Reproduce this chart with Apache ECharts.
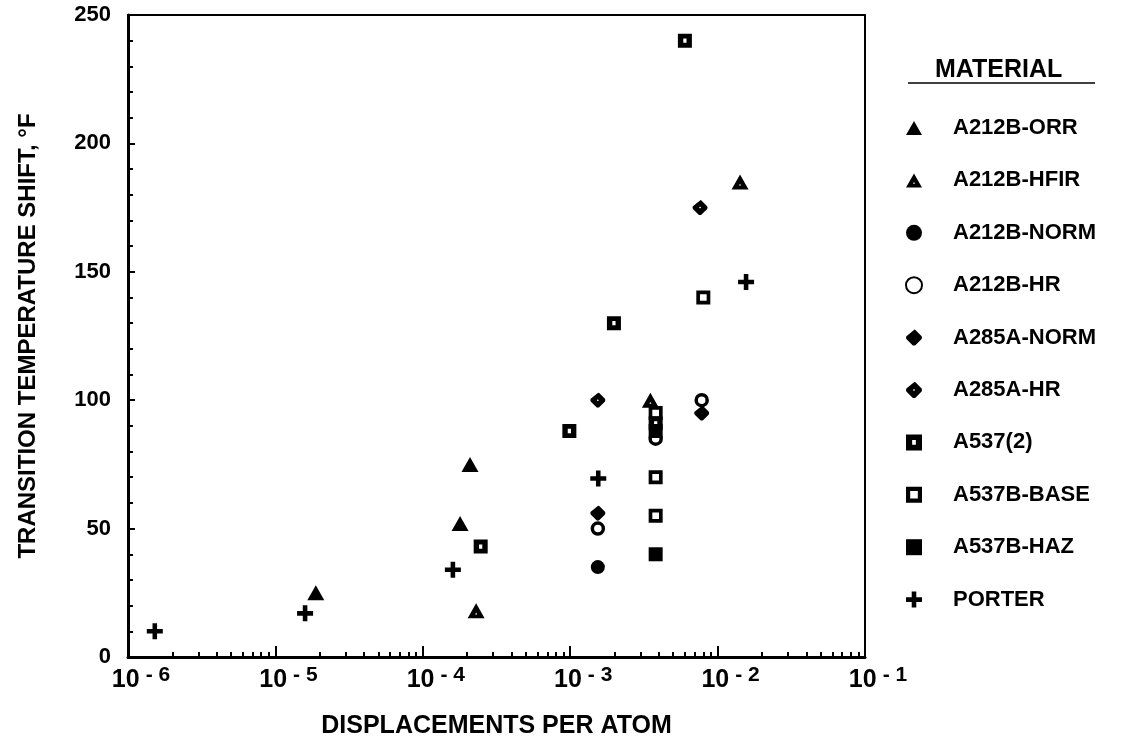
<!DOCTYPE html>
<html lang="en">
<head>
    <meta charset="UTF-8">
    <title>Transition temperature shift</title>
    <style>
    body{ margin:0; background:#fff; }
    #main{ width:1123px; height:748px; }
    </style>
</head>
<body>
<div id="main"></div>
<script src="https://cdn.jsdelivr.net/npm/echarts@6/dist/echarts.min.js"></script>
<script>
    // data points [dpa, shift in F]
    var orr      = [[1.88e-5, 25], [1.79e-4, 52], [2.09e-4, 75]];
    var hfir     = [[2.3e-4, 18], [3.5e-3, 100], [1.42e-2, 185]];
    var norm     = [[1.54e-3, 35]];
    var hr       = [[1.54e-3, 50], [3.8e-3, 85], [7.8e-3, 100]];
    var a285Norm = [[1.54e-3, 56], [7.8e-3, 95]];
    var a285Hr   = [[1.54e-3, 100], [7.6e-3, 175]];
    var a537     = [[2.47e-4, 43], [9.87e-4, 88], [1.98e-3, 130], [3.8e-3, 91], [6.0e-3, 240]];
    var base     = [[3.8e-3, 95], [3.8e-3, 70], [3.8e-3, 55], [8.0e-3, 140]];
    var haz      = [[3.8e-3, 40], [3.8e-3, 88]];
    var porter   = [[1.52e-6, 10], [1.59e-5, 17], [1.6e-4, 34], [1.55e-3, 69.5], [1.56e-2, 146]];

    var names = ['A212B-ORR','A212B-HFIR','A212B-NORM','A212B-HR','A285A-NORM','A285A-HR','A537(2)','A537B-BASE','A537B-HAZ','PORTER'];
    var yTicks = [0, 50, 100, 150, 200, 250];

    // minor tick positions on the log axis (2..9 in each decade), in log10 units
    var minorExp = [];
    for (var d = -6; d < -1; d++) {
        for (var k = 2; k <= 9; k++) minorExp.push(d + Math.log10(k));
    }

    var font = '"Liberation Sans", Arial, sans-serif';
    var black = '#000';

    var symTri    = 'path://M8,0L16,14L0,14Z';
    var symTriDot = 'path://M8,0L16,14L0,14Z M8,8.6L7,10.4L9,10.4Z';
    var symDia    = 'path://M7,0.6Q7.6,0 8.2,0.6L13.4,5.8Q14,7 13.4,8.2L8.2,13.4Q7,14 5.8,13.4L0.6,8.2Q0,7 0.6,5.8Z';
    var symDiaDot = 'path://M7,0.6Q7.6,0 8.2,0.6L13.4,5.8Q14,7 13.4,8.2L8.2,13.4Q7,14 5.8,13.4L0.6,8.2Q0,7 0.6,5.8Z M7,6.1L6.1,7L7,7.9L7.9,7Z';
    var symSq2    = 'path://M0,0H13V13H0Z M5,4.5V8.5H8V4.5Z';
    var symBase   = 'path://M0,0H13V13H0Z M3.4,3.4V9.6H9.6V3.4Z';
    var symPlus   = 'path://M5,0H9V5H14V9H9V14H5V9H0V5H5Z';

    function sc(name, data, symbol, size, style) {
        return {
            name: name,
            type: 'scatter',
            data: data,
            symbol: symbol,
            symbolSize: size,
            itemStyle: style || { color: black, opacity: 1 }
        };
    }

    var myChart = echarts.init(document.getElementById('main'));
    var option = {
        animation: false,
        backgroundColor: '#fff',
        grid: {
            left: 128, right: 258, top: 15, bottom: 91,
            show: true, borderColor: black, borderWidth: 2
        },
        graphic: [
            {
                type: 'text', left: 935, top: 58,
                style: { text: 'MATERIAL', font: 'bold 25px ' + font, fill: black }
            },
            {
                type: 'line',
                shape: { x1: 908, y1: 83, x2: 1095, y2: 83 },
                style: { stroke: black, lineWidth: 1.5 }
            }
        ],
        legend: {
            orient: 'vertical',
            left: 905, top: 117,
            padding: 0,
            itemWidth: 16, itemHeight: 16,
            itemGap: 30.4,
            selectedMode: false,
            data: names,
            textStyle: {
                fontFamily: font, fontSize: 22, fontWeight: 'bold', color: black,
                padding: [0, 0, 0, 26]
            }
        },
        xAxis: [
            {
                type: 'log',
                logBase: 10,
                min: 1e-6, max: 1e-1,
                name: 'DISPLACEMENTS PER ATOM',
                nameLocation: 'middle',
                nameGap: 57,
                nameTextStyle: { fontFamily: font, fontSize: 25, fontWeight: 'bold', color: black },
                axisLine: { lineStyle: { color: black, width: 3 } },
                axisTick: { inside: true, length: 11, lineStyle: { color: black, width: 2 } },
                splitLine: { show: false },
                axisLabel: {
                    margin: 8,
                    padding: [0, 0, 0, 26],
                    formatter: function (v) {
                        var e = Math.round(Math.log10(v));
                        return '{b|10}{s|- ' + (-e) + '}';
                    },
                    rich: {
                        b: { fontFamily: font, fontSize: 25, fontWeight: 'bold', color: black, lineHeight: 28, verticalAlign: 'bottom' },
                        s: { fontFamily: font, fontSize: 21, fontWeight: 'bold', color: black, lineHeight: 28, verticalAlign: 'top', padding: [0, 0, 10, 6] }
                    }
                }
            },
            {
                type: 'value',
                min: -6, max: -1,
                position: 'bottom',
                axisLine: { show: false },
                axisLabel: { show: false },
                splitLine: { show: false },
                axisTick: {
                    show: true, inside: true, length: 5,
                    customValues: minorExp,
                    lineStyle: { color: black, width: 2 }
                }
            }
        ],
        yAxis: {
            type: 'value',
            min: 0, max: 250, interval: 50,
            name: 'TRANSITION TEMPERATURE SHIFT, °F',
            nameLocation: 'middle',
            nameGap: 88,
            nameTextStyle: { fontFamily: font, fontSize: 24, fontWeight: 'bold', color: black },
            axisLine: { lineStyle: { color: black, width: 3 } },
            axisTick: { inside: true, length: 7, lineStyle: { color: black, width: 2 } },
            minorTick: { show: true, splitNumber: 5, length: 5, lineStyle: { color: black, width: 2 } },
            splitLine: { show: false },
            axisLabel: {
                margin: 17,
                fontFamily: font, fontSize: 22, fontWeight: 'bold', color: black,
                customValues: yTicks
            }
        },
        series: [
            sc(names[0], orr, symTri, [17, 15]),
            sc(names[1], hfir, symTriDot, [17, 15]),
            sc(names[2], norm, 'circle', 14),
            sc(names[3], hr, 'circle', 11, { color: '#fff', borderColor: black, borderWidth: 3.5, opacity: 1 }),
            sc(names[4], a285Norm, symDia, 15),
            sc(names[5], a285Hr, symDiaDot, 15),
            sc(names[6], a537, symSq2, 14),
            sc(names[7], base, symBase, 14),
            sc(names[8], haz, 'rect', 14),
            sc(names[9], porter, symPlus, 16)
        ]
    };
    myChart.setOption(option);
</script>
</body>
</html>
